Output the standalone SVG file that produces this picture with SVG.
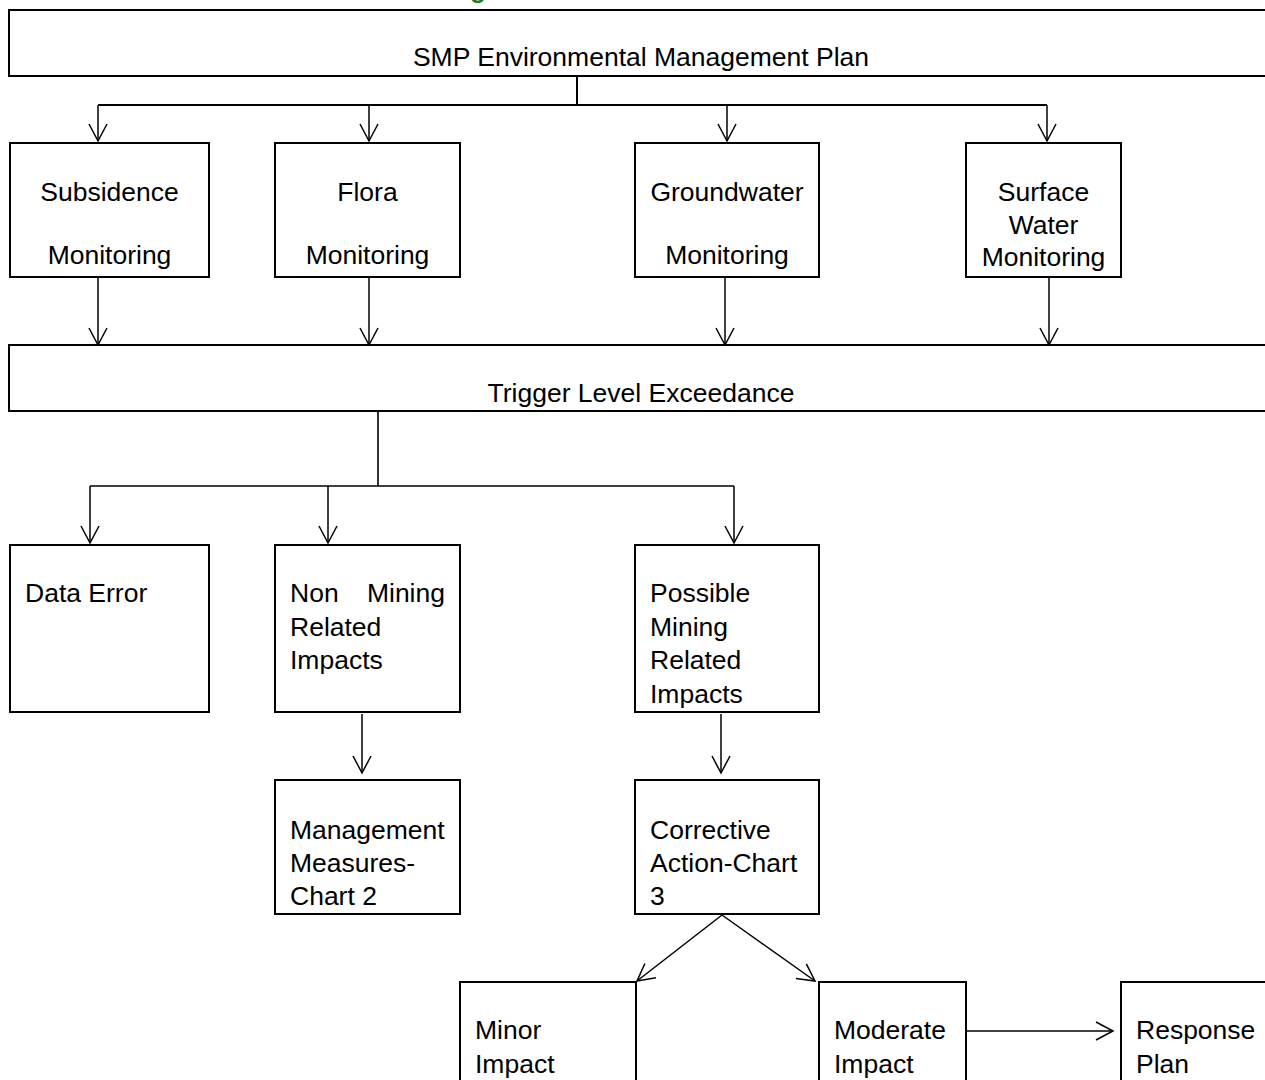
<svg xmlns="http://www.w3.org/2000/svg" width="1265" height="1080" viewBox="0 0 1265 1080">
<style>
.box{fill:#fff;stroke:#000;stroke-width:2}
.t{font-family:"Liberation Sans",Arial,sans-serif;font-size:26.5px;fill:#000}
.c{text-anchor:middle}
.bus{fill:none;stroke:#000;stroke-width:2}
.ar{fill:none;stroke:#000;stroke-width:1.5;marker-end:url(#ah)}
</style>
<defs>
<marker id="ah" markerUnits="userSpaceOnUse" markerWidth="24" markerHeight="24" refX="0" refY="0" viewBox="-20 -12 24 24" orient="auto" overflow="visible">
<path d="M-17,-9 L0,0 L-17,9" fill="none" stroke="#000" stroke-width="1.5"/>
</marker>
</defs>
<rect width="1265" height="1080" fill="#fff"/>
<text x="470" y="-2" font-family="Liberation Sans,Arial,sans-serif" font-size="26" font-weight="bold" fill="#1e7b1e">g</text>

<g id="n-smp"><rect class="box" x="9" y="10" width="1270" height="66"/><text class="t c" x="641" y="66">SMP Environmental Management Plan</text></g>
<g id="n-subsidence"><rect class="box" x="10" y="143" width="199" height="134"/><text class="t c" x="109.5" y="201">Subsidence</text><text class="t c" x="109.5" y="264">Monitoring</text></g>
<g id="n-flora"><rect class="box" x="275" y="143" width="185" height="134"/><text class="t c" x="367.5" y="201">Flora</text><text class="t c" x="367.5" y="264">Monitoring</text></g>
<g id="n-groundwater"><rect class="box" x="635" y="143" width="184" height="134"/><text class="t c" x="727" y="201">Groundwater</text><text class="t c" x="727" y="264">Monitoring</text></g>
<g id="n-surface"><rect class="box" x="966" y="143" width="155" height="134"/><text class="t c" x="1043.5" y="201">Surface</text><text class="t c" x="1043.5" y="234">Water</text><text class="t c" x="1043.5" y="266">Monitoring</text></g>
<g id="n-trigger"><rect class="box" x="9" y="345" width="1270" height="66"/><text class="t c" x="641" y="401.5">Trigger Level Exceedance</text></g>
<g id="n-dataerror"><rect class="box" x="10" y="545" width="199" height="167"/><text class="t" x="25" y="602">Data Error</text></g>
<g id="n-nonmining"><rect class="box" x="275" y="545" width="185" height="167"/><text class="t" x="290" y="602">Non</text><text class="t" x="445" y="602" text-anchor="end">Mining</text><text class="t" x="290" y="635.5">Related</text><text class="t" x="290" y="669">Impacts</text></g>
<g id="n-possible"><rect class="box" x="635" y="545" width="184" height="167"/><text class="t" x="650" y="602">Possible</text><text class="t" x="650" y="635.5">Mining</text><text class="t" x="650" y="669">Related</text><text class="t" x="650" y="702.5">Impacts</text></g>
<g id="n-management"><rect class="box" x="275" y="780" width="185" height="134"/><text class="t" x="290" y="839">Management</text><text class="t" x="290" y="872">Measures-</text><text class="t" x="290" y="905">Chart 2</text></g>
<g id="n-corrective"><rect class="box" x="635" y="780" width="184" height="134"/><text class="t" x="650" y="839">Corrective</text><text class="t" x="650" y="872">Action-Chart</text><text class="t" x="650" y="905">3</text></g>
<g id="n-minor"><rect class="box" x="460" y="982" width="176" height="120"/><text class="t" x="475" y="1039">Minor</text><text class="t" x="475" y="1073">Impact</text></g>
<g id="n-moderate"><rect class="box" x="819" y="982" width="147" height="120"/><text class="t" x="834" y="1039">Moderate</text><text class="t" x="834" y="1073">Impact</text></g>
<g id="n-response"><rect class="box" x="1121" y="982" width="160" height="120"/><text class="t" x="1136" y="1039">Response</text><text class="t" x="1136" y="1073">Plan</text></g>

<g id="connectors">
<path class="bus" d="M577,76 V105 M98,105 H1047"/>
<line class="ar" x1="98" y1="105" x2="98" y2="141"/>
<line class="ar" x1="369" y1="105" x2="369" y2="141"/>
<line class="ar" x1="727" y1="105" x2="727" y2="141"/>
<line class="ar" x1="1047" y1="105" x2="1047" y2="141"/>
<line class="ar" x1="98" y1="278" x2="98" y2="345"/>
<line class="ar" x1="369" y1="278" x2="369" y2="345"/>
<line class="ar" x1="725" y1="278" x2="725" y2="345"/>
<line class="ar" x1="1049" y1="278" x2="1049" y2="345"/>
<path class="bus" style="stroke-width:1.6" d="M378,412 V486 M90,486 H734"/>
<line class="ar" x1="90" y1="486" x2="90" y2="543"/>
<line class="ar" x1="328" y1="486" x2="328" y2="543"/>
<line class="ar" x1="734" y1="486" x2="734" y2="543"/>
<line class="ar" x1="362" y1="714" x2="362" y2="773"/>
<line class="ar" x1="721" y1="714" x2="721" y2="773"/>
<line class="ar" x1="722" y1="915" x2="637" y2="981"/>
<line class="ar" x1="722" y1="915" x2="815" y2="981"/>
<line class="ar" x1="967" y1="1031" x2="1113" y2="1031"/>
</g>
</svg>
